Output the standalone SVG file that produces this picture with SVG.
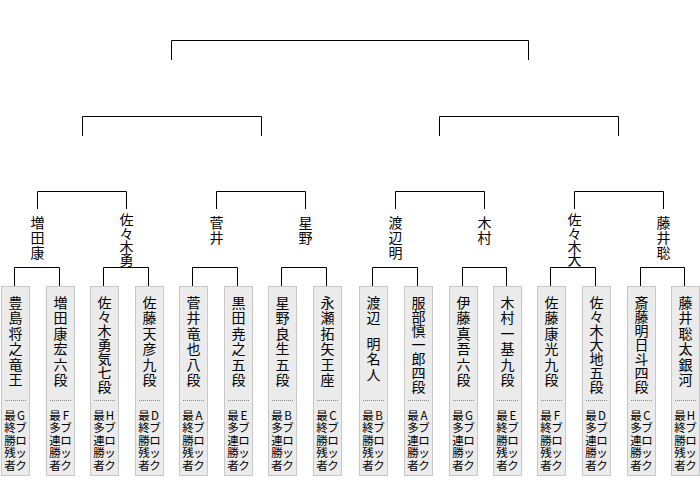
<svg xmlns="http://www.w3.org/2000/svg" width="700" height="480" viewBox="0 0 700 480">
<style>
.ln{stroke:#000;stroke-width:1;fill:none}
.bx{fill:#ebebeb;stroke:#c8c8c8;stroke-width:1}
.dt{stroke:#8a8a8a;stroke-width:1;stroke-dasharray:1 1}
text{font-family:"Noto Sans CJK JP","Noto Sans CJK SC",sans-serif;fill:#000;text-anchor:middle;dominant-baseline:central}
.nm{font-size:14px}
.sm{font-size:11.5px}
</style>
<rect x="0" y="0" width="700" height="480" fill="#fff"/>
<g id="connectors" class="ln">
<path d="M171.5 60V40.5H528.5V60"/>
<path d="M82.5 136V116.5H261.5V136"/>
<path d="M439.5 136V116.5H618.5V136"/>
<path d="M37.5 209V191.5H126.5V209"/>
<path d="M216.5 209V191.5H305.5V209"/>
<path d="M395.5 209V191.5H484.5V209"/>
<path d="M574.5 209V191.5H663.5V209"/>
<path d="M14.5 286V267.5H59.5V286"/>
<path d="M103.5 286V267.5H148.5V286"/>
<path d="M192.5 286V267.5H237.5V286"/>
<path d="M281.5 286V267.5H326.5V286"/>
<path d="M372.5 286V267.5H417.5V286"/>
<path d="M462.5 286V267.5H506.5V286"/>
<path d="M550.5 286V267.5H595.5V286"/>
<path d="M640.5 286V267.5H684.5V286"/>
</g>
<g id="w1"><text class="nm"><tspan x="37.5" y="221.7">増</tspan><tspan x="37.5" y="236.9">田</tspan><tspan x="37.5" y="252.1">康</tspan></text></g>
<g id="w2"><text class="nm"><tspan x="126.5" y="219.2">佐</tspan><tspan x="126.5" y="232.5">々</tspan><tspan x="126.5" y="245.8">木</tspan><tspan x="126.5" y="259.1">勇</tspan></text></g>
<g id="w3"><text class="nm"><tspan x="216.5" y="221.7">菅</tspan><tspan x="216.5" y="236.9">井</tspan></text></g>
<g id="w4"><text class="nm"><tspan x="305.5" y="221.7">星</tspan><tspan x="305.5" y="236.9">野</tspan></text></g>
<g id="w5"><text class="nm"><tspan x="395.5" y="221.7">渡</tspan><tspan x="395.5" y="236.9">辺</tspan><tspan x="395.5" y="252.1">明</tspan></text></g>
<g id="w6"><text class="nm"><tspan x="484.5" y="221.7">木</tspan><tspan x="484.5" y="236.9">村</tspan></text></g>
<g id="w7"><text class="nm"><tspan x="574.5" y="219.2">佐</tspan><tspan x="574.5" y="232.5">々</tspan><tspan x="574.5" y="245.8">木</tspan><tspan x="574.5" y="259.1">大</tspan></text></g>
<g id="w8"><text class="nm"><tspan x="663.5" y="221.7">藤</tspan><tspan x="663.5" y="236.9">井</tspan><tspan x="663.5" y="252.1">聡</tspan></text></g>

<g id="p0"><rect class="bx" x="1.5" y="286.5" width="28" height="189"/><path class="dt" d="M5 400.5H27"/>
<text class="nm"><tspan x="15.5" y="301.7">豊</tspan><tspan x="15.5" y="317.2">島</tspan><tspan x="15.5" y="332.7">将</tspan><tspan x="15.5" y="348.2">之</tspan><tspan x="15.5" y="363.7">竜</tspan><tspan x="15.5" y="379.2">王</tspan></text>
<text class="sm"><tspan x="21" y="415">G</tspan><tspan x="21" y="427.4">ブ</tspan><tspan x="21" y="439.8">ロ</tspan><tspan x="21" y="452.2">ッ</tspan><tspan x="21" y="464.6">ク</tspan></text>
<text class="sm"><tspan x="10" y="415">最</tspan><tspan x="10" y="427.4">終</tspan><tspan x="10" y="439.8">勝</tspan><tspan x="10" y="452.2">残</tspan><tspan x="10" y="464.6">者</tspan></text></g>

<g id="p1"><rect class="bx" x="46.5" y="286.5" width="28" height="189"/><path class="dt" d="M50 400.5H72"/>
<text class="nm"><tspan x="60.5" y="301.7">増</tspan><tspan x="60.5" y="317.2">田</tspan><tspan x="60.5" y="332.7">康</tspan><tspan x="60.5" y="348.2">宏</tspan><tspan x="60.5" y="363.7">六</tspan><tspan x="60.5" y="379.2">段</tspan></text>
<text class="sm"><tspan x="66" y="415">F</tspan><tspan x="66" y="427.4">ブ</tspan><tspan x="66" y="439.8">ロ</tspan><tspan x="66" y="452.2">ッ</tspan><tspan x="66" y="464.6">ク</tspan></text>
<text class="sm"><tspan x="55" y="415">最</tspan><tspan x="55" y="427.4">多</tspan><tspan x="55" y="439.8">連</tspan><tspan x="55" y="452.2">勝</tspan><tspan x="55" y="464.6">者</tspan></text></g>

<g id="p2"><rect class="bx" x="90.5" y="286.5" width="28" height="189"/><path class="dt" d="M94 400.5H116"/>
<text class="nm"><tspan x="104.5" y="301.7">佐</tspan><tspan x="104.5" y="315.7">々</tspan><tspan x="104.5" y="329.7">木</tspan><tspan x="104.5" y="343.7">勇</tspan><tspan x="104.5" y="357.7">気</tspan><tspan x="104.5" y="371.7">七</tspan><tspan x="104.5" y="385.7">段</tspan></text>
<text class="sm"><tspan x="110" y="415">H</tspan><tspan x="110" y="427.4">ブ</tspan><tspan x="110" y="439.8">ロ</tspan><tspan x="110" y="452.2">ッ</tspan><tspan x="110" y="464.6">ク</tspan></text>
<text class="sm"><tspan x="99" y="415">最</tspan><tspan x="99" y="427.4">多</tspan><tspan x="99" y="439.8">連</tspan><tspan x="99" y="452.2">勝</tspan><tspan x="99" y="464.6">者</tspan></text></g>

<g id="p3"><rect class="bx" x="135.5" y="286.5" width="28" height="189"/><path class="dt" d="M139 400.5H161"/>
<text class="nm"><tspan x="149.5" y="301.7">佐</tspan><tspan x="149.5" y="317.2">藤</tspan><tspan x="149.5" y="332.7">天</tspan><tspan x="149.5" y="348.2">彦</tspan><tspan x="149.5" y="363.7">九</tspan><tspan x="149.5" y="379.2">段</tspan></text>
<text class="sm"><tspan x="155" y="415">D</tspan><tspan x="155" y="427.4">ブ</tspan><tspan x="155" y="439.8">ロ</tspan><tspan x="155" y="452.2">ッ</tspan><tspan x="155" y="464.6">ク</tspan></text>
<text class="sm"><tspan x="144" y="415">最</tspan><tspan x="144" y="427.4">終</tspan><tspan x="144" y="439.8">勝</tspan><tspan x="144" y="452.2">残</tspan><tspan x="144" y="464.6">者</tspan></text></g>

<g id="p4"><rect class="bx" x="179.5" y="286.5" width="28" height="189"/><path class="dt" d="M183 400.5H205"/>
<text class="nm"><tspan x="193.5" y="301.7">菅</tspan><tspan x="193.5" y="317.2">井</tspan><tspan x="193.5" y="332.7">竜</tspan><tspan x="193.5" y="348.2">也</tspan><tspan x="193.5" y="363.7">八</tspan><tspan x="193.5" y="379.2">段</tspan></text>
<text class="sm"><tspan x="199" y="415">A</tspan><tspan x="199" y="427.4">ブ</tspan><tspan x="199" y="439.8">ロ</tspan><tspan x="199" y="452.2">ッ</tspan><tspan x="199" y="464.6">ク</tspan></text>
<text class="sm"><tspan x="188" y="415">最</tspan><tspan x="188" y="427.4">終</tspan><tspan x="188" y="439.8">勝</tspan><tspan x="188" y="452.2">残</tspan><tspan x="188" y="464.6">者</tspan></text></g>

<g id="p5"><rect class="bx" x="224.5" y="286.5" width="28" height="189"/><path class="dt" d="M228 400.5H250"/>
<text class="nm"><tspan x="238.5" y="301.7">黒</tspan><tspan x="238.5" y="317.2">田</tspan><tspan x="238.5" y="332.7">尭</tspan><tspan x="238.5" y="348.2">之</tspan><tspan x="238.5" y="363.7">五</tspan><tspan x="238.5" y="379.2">段</tspan></text>
<text class="sm"><tspan x="244" y="415">E</tspan><tspan x="244" y="427.4">ブ</tspan><tspan x="244" y="439.8">ロ</tspan><tspan x="244" y="452.2">ッ</tspan><tspan x="244" y="464.6">ク</tspan></text>
<text class="sm"><tspan x="233" y="415">最</tspan><tspan x="233" y="427.4">多</tspan><tspan x="233" y="439.8">連</tspan><tspan x="233" y="452.2">勝</tspan><tspan x="233" y="464.6">者</tspan></text></g>

<g id="p6"><rect class="bx" x="268.5" y="286.5" width="28" height="189"/><path class="dt" d="M272 400.5H294"/>
<text class="nm"><tspan x="282.5" y="301.7">星</tspan><tspan x="282.5" y="317.2">野</tspan><tspan x="282.5" y="332.7">良</tspan><tspan x="282.5" y="348.2">生</tspan><tspan x="282.5" y="363.7">五</tspan><tspan x="282.5" y="379.2">段</tspan></text>
<text class="sm"><tspan x="288" y="415">B</tspan><tspan x="288" y="427.4">ブ</tspan><tspan x="288" y="439.8">ロ</tspan><tspan x="288" y="452.2">ッ</tspan><tspan x="288" y="464.6">ク</tspan></text>
<text class="sm"><tspan x="277" y="415">最</tspan><tspan x="277" y="427.4">多</tspan><tspan x="277" y="439.8">連</tspan><tspan x="277" y="452.2">勝</tspan><tspan x="277" y="464.6">者</tspan></text></g>

<g id="p7"><rect class="bx" x="313.5" y="286.5" width="28" height="189"/><path class="dt" d="M317 400.5H339"/>
<text class="nm"><tspan x="327.5" y="301.7">永</tspan><tspan x="327.5" y="317.2">瀬</tspan><tspan x="327.5" y="332.7">拓</tspan><tspan x="327.5" y="348.2">矢</tspan><tspan x="327.5" y="363.7">王</tspan><tspan x="327.5" y="379.2">座</tspan></text>
<text class="sm"><tspan x="333" y="415">C</tspan><tspan x="333" y="427.4">ブ</tspan><tspan x="333" y="439.8">ロ</tspan><tspan x="333" y="452.2">ッ</tspan><tspan x="333" y="464.6">ク</tspan></text>
<text class="sm"><tspan x="322" y="415">最</tspan><tspan x="322" y="427.4">終</tspan><tspan x="322" y="439.8">勝</tspan><tspan x="322" y="452.2">残</tspan><tspan x="322" y="464.6">者</tspan></text></g>

<g id="p8"><rect class="bx" x="359.5" y="286.5" width="28" height="189"/><path class="dt" d="M363 400.5H385"/>
<text class="nm"><tspan x="373.5" y="301.7">渡</tspan><tspan x="373.5" y="317.2">辺</tspan><tspan x="373.5" y="342.5">明</tspan><tspan x="373.5" y="358">名</tspan><tspan x="373.5" y="373.5">人</tspan></text>
<text class="sm"><tspan x="379" y="415">B</tspan><tspan x="379" y="427.4">ブ</tspan><tspan x="379" y="439.8">ロ</tspan><tspan x="379" y="452.2">ッ</tspan><tspan x="379" y="464.6">ク</tspan></text>
<text class="sm"><tspan x="368" y="415">最</tspan><tspan x="368" y="427.4">終</tspan><tspan x="368" y="439.8">勝</tspan><tspan x="368" y="452.2">残</tspan><tspan x="368" y="464.6">者</tspan></text></g>

<g id="p9"><rect class="bx" x="404.5" y="286.5" width="28" height="189"/><path class="dt" d="M408 400.5H430"/>
<text class="nm"><tspan x="418.5" y="301.7">服</tspan><tspan x="418.5" y="315.7">部</tspan><tspan x="418.5" y="329.7">慎</tspan><tspan x="418.5" y="343.7">一</tspan><tspan x="418.5" y="357.7">郎</tspan><tspan x="418.5" y="371.7">四</tspan><tspan x="418.5" y="385.7">段</tspan></text>
<text class="sm"><tspan x="424" y="415">A</tspan><tspan x="424" y="427.4">ブ</tspan><tspan x="424" y="439.8">ロ</tspan><tspan x="424" y="452.2">ッ</tspan><tspan x="424" y="464.6">ク</tspan></text>
<text class="sm"><tspan x="413" y="415">最</tspan><tspan x="413" y="427.4">多</tspan><tspan x="413" y="439.8">連</tspan><tspan x="413" y="452.2">勝</tspan><tspan x="413" y="464.6">者</tspan></text></g>

<g id="p10"><rect class="bx" x="449.5" y="286.5" width="28" height="189"/><path class="dt" d="M453 400.5H475"/>
<text class="nm"><tspan x="463.5" y="301.7">伊</tspan><tspan x="463.5" y="317.2">藤</tspan><tspan x="463.5" y="332.7">真</tspan><tspan x="463.5" y="348.2">吾</tspan><tspan x="463.5" y="363.7">六</tspan><tspan x="463.5" y="379.2">段</tspan></text>
<text class="sm"><tspan x="469" y="415">G</tspan><tspan x="469" y="427.4">ブ</tspan><tspan x="469" y="439.8">ロ</tspan><tspan x="469" y="452.2">ッ</tspan><tspan x="469" y="464.6">ク</tspan></text>
<text class="sm"><tspan x="458" y="415">最</tspan><tspan x="458" y="427.4">多</tspan><tspan x="458" y="439.8">連</tspan><tspan x="458" y="452.2">勝</tspan><tspan x="458" y="464.6">者</tspan></text></g>

<g id="p11"><rect class="bx" x="493.5" y="286.5" width="28" height="189"/><path class="dt" d="M497 400.5H519"/>
<text class="nm"><tspan x="507.5" y="301.7">木</tspan><tspan x="507.5" y="317.2">村</tspan><tspan x="507.5" y="332.7">一</tspan><tspan x="507.5" y="348.2">基</tspan><tspan x="507.5" y="363.7">九</tspan><tspan x="507.5" y="379.2">段</tspan></text>
<text class="sm"><tspan x="513" y="415">E</tspan><tspan x="513" y="427.4">ブ</tspan><tspan x="513" y="439.8">ロ</tspan><tspan x="513" y="452.2">ッ</tspan><tspan x="513" y="464.6">ク</tspan></text>
<text class="sm"><tspan x="502" y="415">最</tspan><tspan x="502" y="427.4">終</tspan><tspan x="502" y="439.8">勝</tspan><tspan x="502" y="452.2">残</tspan><tspan x="502" y="464.6">者</tspan></text></g>

<g id="p12"><rect class="bx" x="537.5" y="286.5" width="28" height="189"/><path class="dt" d="M541 400.5H563"/>
<text class="nm"><tspan x="551.5" y="301.7">佐</tspan><tspan x="551.5" y="317.2">藤</tspan><tspan x="551.5" y="332.7">康</tspan><tspan x="551.5" y="348.2">光</tspan><tspan x="551.5" y="363.7">九</tspan><tspan x="551.5" y="379.2">段</tspan></text>
<text class="sm"><tspan x="557" y="415">F</tspan><tspan x="557" y="427.4">ブ</tspan><tspan x="557" y="439.8">ロ</tspan><tspan x="557" y="452.2">ッ</tspan><tspan x="557" y="464.6">ク</tspan></text>
<text class="sm"><tspan x="546" y="415">最</tspan><tspan x="546" y="427.4">終</tspan><tspan x="546" y="439.8">勝</tspan><tspan x="546" y="452.2">残</tspan><tspan x="546" y="464.6">者</tspan></text></g>

<g id="p13"><rect class="bx" x="582.5" y="286.5" width="28" height="189"/><path class="dt" d="M586 400.5H608"/>
<text class="nm"><tspan x="596.5" y="301.7">佐</tspan><tspan x="596.5" y="315.7">々</tspan><tspan x="596.5" y="329.7">木</tspan><tspan x="596.5" y="343.7">大</tspan><tspan x="596.5" y="357.7">地</tspan><tspan x="596.5" y="371.7">五</tspan><tspan x="596.5" y="385.7">段</tspan></text>
<text class="sm"><tspan x="602" y="415">D</tspan><tspan x="602" y="427.4">ブ</tspan><tspan x="602" y="439.8">ロ</tspan><tspan x="602" y="452.2">ッ</tspan><tspan x="602" y="464.6">ク</tspan></text>
<text class="sm"><tspan x="591" y="415">最</tspan><tspan x="591" y="427.4">多</tspan><tspan x="591" y="439.8">連</tspan><tspan x="591" y="452.2">勝</tspan><tspan x="591" y="464.6">者</tspan></text></g>

<g id="p14"><rect class="bx" x="627.5" y="286.5" width="28" height="189"/><path class="dt" d="M631 400.5H653"/>
<text class="nm"><tspan x="641.5" y="301.7">斎</tspan><tspan x="641.5" y="315.7">藤</tspan><tspan x="641.5" y="329.7">明</tspan><tspan x="641.5" y="343.7">日</tspan><tspan x="641.5" y="357.7">斗</tspan><tspan x="641.5" y="371.7">四</tspan><tspan x="641.5" y="385.7">段</tspan></text>
<text class="sm"><tspan x="647" y="415">C</tspan><tspan x="647" y="427.4">ブ</tspan><tspan x="647" y="439.8">ロ</tspan><tspan x="647" y="452.2">ッ</tspan><tspan x="647" y="464.6">ク</tspan></text>
<text class="sm"><tspan x="636" y="415">最</tspan><tspan x="636" y="427.4">多</tspan><tspan x="636" y="439.8">連</tspan><tspan x="636" y="452.2">勝</tspan><tspan x="636" y="464.6">者</tspan></text></g>

<g id="p15"><rect class="bx" x="671.5" y="286.5" width="28" height="189"/><path class="dt" d="M675 400.5H697"/>
<text class="nm"><tspan x="685.5" y="301.7">藤</tspan><tspan x="685.5" y="317.2">井</tspan><tspan x="685.5" y="332.7">聡</tspan><tspan x="685.5" y="348.2">太</tspan><tspan x="685.5" y="363.7">銀</tspan><tspan x="685.5" y="379.2">河</tspan></text>
<text class="sm"><tspan x="691" y="415">H</tspan><tspan x="691" y="427.4">ブ</tspan><tspan x="691" y="439.8">ロ</tspan><tspan x="691" y="452.2">ッ</tspan><tspan x="691" y="464.6">ク</tspan></text>
<text class="sm"><tspan x="680" y="415">最</tspan><tspan x="680" y="427.4">終</tspan><tspan x="680" y="439.8">勝</tspan><tspan x="680" y="452.2">残</tspan><tspan x="680" y="464.6">者</tspan></text></g>
</svg>
